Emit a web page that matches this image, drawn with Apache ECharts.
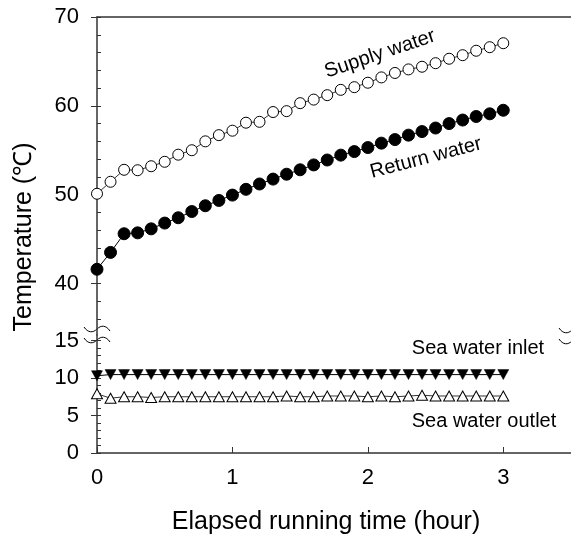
<!DOCTYPE html>
<html><head><meta charset="utf-8">
<script src="https://cdn.jsdelivr.net/npm/echarts@6/dist/echarts.min.js"></script>
<style>html,body{margin:0;padding:0;background:#fff}#c{width:571px;height:538px}</style>
</head><body><div id="c"></div>
<script>
// ---- data ----
const hours = [0,0.1,0.2,0.3,0.4,0.5,0.6,0.7,0.8,0.9,1.0,1.1,1.2,1.3,1.4,1.5,1.6,1.7,1.8,1.9,2.0,2.1,2.2,2.3,2.4,2.5,2.6,2.7,2.8,2.9,3.0];
const supplyWater = [50.1,51.45,52.8,52.75,53.2,53.7,54.5,55.0,56.0,56.7,57.2,58.1,58.2,59.3,59.4,60.3,60.7,61.2,61.8,62.1,62.6,63.2,63.7,64.1,64.4,64.8,65.3,65.7,66.2,66.6,67.05];
const returnWater = [41.6,43.5,45.6,45.7,46.15,46.8,47.4,48.1,48.75,49.35,49.95,50.6,51.2,51.75,52.3,52.8,53.35,53.9,54.45,54.85,55.3,55.8,56.2,56.7,57.1,57.5,58.0,58.4,58.8,59.1,59.5];
const seaInlet = [10.3,10.45,10.45,10.45,10.45,10.45,10.45,10.45,10.45,10.45,10.45,10.45,10.45,10.45,10.45,10.45,10.45,10.45,10.45,10.45,10.45,10.45,10.45,10.45,10.45,10.45,10.45,10.45,10.45,10.45,10.45];
const seaOutlet = [7.9,7.3,7.5,7.5,7.4,7.5,7.5,7.5,7.5,7.5,7.5,7.5,7.5,7.5,7.6,7.5,7.5,7.6,7.6,7.6,7.5,7.6,7.5,7.6,7.7,7.6,7.6,7.6,7.6,7.6,7.6];
const xTicks = [0,1,2,3];
const topMajor = [40,50,60,70];
const topMinor = [36,38,40,42,44,46,48,50,52,54,56,58,60,62,64,66,68,70];
const bottomMajor = [0,5,10,15];
const bottomMinor = [0,1,2,3,4,5,6,7,8,9,10,11,12,13,14,15];

const FONT = '"Liberation Sans", Arial, sans-serif';
const axisCol = '#333';
const pairs = arr => hours.map((h,i)=>[h, arr[i]]);

function tilde(cx, cy){
  const st = {stroke:'#000', fill:null, lineWidth:1};
  return [
    {type:'bezierCurve', shape:{x1:cx-13, y1:cy-2, cpx1:cx-9, cpy1:cy+4, cpx2:cx-4, cpy2:cy+4, x2:cx, y2:cy}, style:st},
    {type:'bezierCurve', shape:{x1:cx, y1:cy, cpx1:cx+4, cpy1:cy-4, cpx2:cx+9, cpy2:cy-4, x2:cx+13, y2:cy+2}, style:st}
  ];
}

const chart = echarts.init(document.getElementById('c'), null, {renderer:'canvas'});
const majorY = (gi, min, max, majors) => ({
  gridIndex: gi, type:'value', min, max, position:'left',
  axisLine:{show:true, lineStyle:{color:axisCol, width:1.5}},
  axisTick:{show:true, inside:false, length:6, customValues: majors, lineStyle:{color:axisCol, width:1}},
  axisLabel:{show:true, customValues: majors, fontSize:22, fontFamily:FONT, color:'#000', margin:18},
  splitLine:{show:false}
});
const minorY = (gi, min, max, minors) => ({
  gridIndex: gi, type:'value', min, max, position:'left', offset:0,
  axisLine:{show:false},
  axisTick:{show:true, inside:true, length:4, customValues: minors, lineStyle:{color:axisCol, width:1}},
  axisLabel:{show:false},
  splitLine:{show:false}
});

chart.setOption({
  animation:false,
  backgroundColor:'#fff',
  grid:[
    {left:97, right:0, top:17, height:318},
    {left:97, right:0, top:335, height:118}
  ],
  xAxis:[
    {gridIndex:0, type:'value', min:0, max:3.5, position:'top',
     axisLine:{show:true, lineStyle:{color:axisCol, width:1.5}}, axisTick:{show:false}, axisLabel:{show:false}, splitLine:{show:false}},
    {gridIndex:1, type:'value', min:0, max:3.5, position:'bottom',
     axisLine:{show:true, lineStyle:{color:axisCol, width:1.5}},
     axisTick:{show:true, inside:true, length:6, customValues:xTicks, lineStyle:{color:axisCol, width:1}},
     axisLabel:{show:true, customValues:xTicks, fontSize:22, fontFamily:FONT, color:'#000', margin:14},
     splitLine:{show:false}}
  ],
  yAxis:[
    majorY(0, 34.2, 70, topMajor),
    minorY(0, 34.2, 70, topMinor),
    majorY(1, 0, 15.73, bottomMajor),
    minorY(1, 0, 15.73, bottomMinor)
  ],
  series:[
    {type:'line', name:'Supply water', xAxisIndex:0, yAxisIndex:0, data:pairs(supplyWater),
     symbol:'circle', symbolSize:11, lineStyle:{color:'#000', width:0.8},
     itemStyle:{color:'#fff', borderColor:'#000', borderWidth:1}},
    {type:'line', name:'Return water', xAxisIndex:0, yAxisIndex:0, data:pairs(returnWater),
     symbol:'circle', symbolSize:12, lineStyle:{color:'#000', width:1},
     itemStyle:{color:'#000', borderColor:'#000', borderWidth:1}},
    {type:'line', name:'Sea water inlet', xAxisIndex:1, yAxisIndex:2, data:pairs(seaInlet),
     symbol:'triangle', symbolRotate:180, symbolSize:[11,10], lineStyle:{color:'#000', width:1},
     itemStyle:{color:'#000', borderColor:'#000', borderWidth:0.5}},
    {type:'line', name:'Sea water outlet', xAxisIndex:1, yAxisIndex:2, data:pairs(seaOutlet),
     symbol:'triangle', symbolSize:[11,10], lineStyle:{color:'#000', width:0.8},
     itemStyle:{color:'#fff', borderColor:'#000', borderWidth:1}}
  ],
  graphic:[
    {type:'text', x:24, y:237, rotation:Math.PI/2, style:{text:'Temperature (℃)', font:`25px ${FONT}`, fill:'#000', align:'center', verticalAlign:'middle'}},
    {type:'text', x:326, y:522, style:{text:'Elapsed running time (hour)', font:`25px ${FONT}`, fill:'#000', align:'center', verticalAlign:'middle'}},
    {type:'text', x:380, y:54, rotation:18.7*Math.PI/180, style:{text:'Supply water', font:`20px ${FONT}`, fill:'#000', align:'center', verticalAlign:'middle'}},
    {type:'text', x:426, y:158, rotation:14.8*Math.PI/180, style:{text:'Return water', font:`20px ${FONT}`, fill:'#000', align:'center', verticalAlign:'middle'}},
    {type:'text', x:478, y:348, style:{text:'Sea water inlet', font:`20px ${FONT}`, fill:'#000', align:'center', verticalAlign:'middle'}},
    {type:'text', x:484, y:421, style:{text:'Sea water outlet', font:`20px ${FONT}`, fill:'#000', align:'center', verticalAlign:'middle'}}
  ].concat(tilde(97,329), tilde(97,340), tilde(572,330), tilde(572,341))
});
</script></body></html>
